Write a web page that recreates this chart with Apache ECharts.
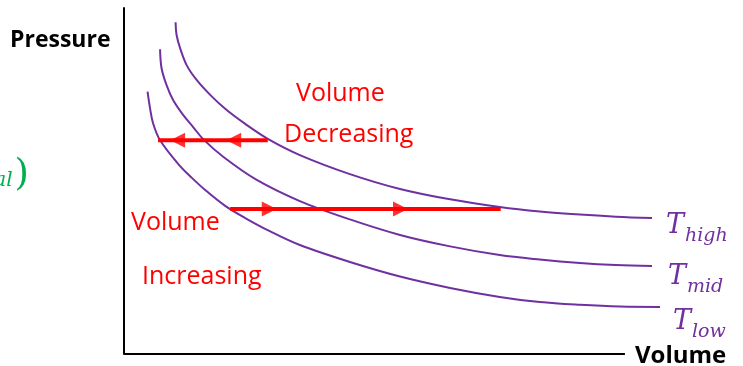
<!DOCTYPE html>
<html>
<head>
<meta charset="utf-8">
<script src="https://cdn.jsdelivr.net/npm/echarts@6/dist/echarts.min.js"></script>
<style>html,body{margin:0;padding:0;background:#fff}#c{width:743px;height:366px}</style>
</head>
<body>
<div id="c"></div>
<script>
// Isotherm curves (Volume, Pressure) in arbitrary units
const tHigh = [[1.03,9.59],[1.05,9.22],[1.12,8.84],[1.25,8.35],[1.45,7.92],[1.72,7.49],[2.05,7.05],[2.42,6.65],[2.88,6.21],[3.51,5.75],[4.51,5.20],[5.51,4.77],[6.51,4.47],[7.50,4.25],[8.30,4.12],[9.10,4.03],[9.82,3.97],[10.54,3.93]];
const tMid  = [[0.72,8.81],[0.75,8.26],[0.85,7.77],[0.98,7.34],[1.18,6.91],[1.38,6.56],[1.58,6.21],[1.98,5.70],[2.65,5.03],[3.51,4.42],[4.51,3.89],[5.51,3.44],[6.51,3.11],[7.50,2.86],[8.30,2.73],[9.10,2.63],[9.82,2.57],[10.54,2.54]];
const tLow  = [[0.47,7.58],[0.52,7.10],[0.58,6.67],[0.72,6.18],[1.12,5.43],[1.32,5.14],[1.62,4.74],[2.02,4.28],[2.42,3.93],[2.91,3.55],[3.51,3.15],[4.51,2.66],[5.51,2.24],[6.51,1.91],[7.50,1.65],[8.30,1.50],[9.10,1.42],[9.90,1.37],[10.70,1.36]];
// Arrows
const decArrow = [[2.87,6.18],[0.68,6.18]];
const decHeads = [[1.07,6.18],[2.19,6.18]];
const incArrow = [[2.12,4.19],[7.52,4.19]];
const incHeads = [[2.90,4.19],[5.52,4.19]];
// Volume axis extent (drawn line)
const volumeAxis = [[0,0],[10,0]];
const curveNames = ['high','mid','low'];

const purple = '#7030A0', red = '#FF0000';
const chart = echarts.init(document.getElementById('c'));

function curve(data, sub, off) {
  return {
    type: 'line', data: data, smooth: 0.35, symbol: 'none',
    lineStyle: {color: purple, width: 2}, silent: true,
    endLabel: {
      show: true, offset: off, formatter: '{t|T}{s|' + sub + '}',
      rich: {
        t: {fontFamily: 'DejaVu Serif', fontStyle: 'italic', fontSize: 27, color: purple, verticalAlign: 'bottom', padding: [0,1,6,0]},
        s: {fontFamily: 'DejaVu Serif', fontStyle: 'italic', fontSize: 19, color: purple, verticalAlign: 'bottom'}
      }
    }
  };
}

chart.setOption({
  animation: false,
  grid: {left: 124, top: 8, right: 78, bottom: 12},
  xAxis: {type: 'value', min: 0, max: 10.8,
    axisLine: {show: false}, axisTick: {show: false}, axisLabel: {show: false}, splitLine: {show: false}},
  yAxis: {type: 'value', min: 0, max: 10,
    axisLine: {show: true, lineStyle: {color: '#000', width: 2}}, axisTick: {show: false}, axisLabel: {show: false}, splitLine: {show: false}},
  series: [
    {type: 'line', data: volumeAxis, symbol: 'none', lineStyle: {color: '#000', width: 2}, silent: true},
    curve(tHigh, curveNames[0], [6, 11]),
    curve(tMid, curveNames[1], [8, 14]),
    curve(tLow, curveNames[2], [5, 18]),
    {type: 'line', data: decArrow, symbol: 'none', lineStyle: {color: red, width: 4}, silent: true},
    {type: 'line', data: incArrow, symbol: 'none', lineStyle: {color: red, width: 4}, silent: true},
    {type: 'scatter', data: decHeads, symbol: 'triangle', symbolSize: [15,15], symbolRotate: 90, itemStyle: {color: red}, silent: true},
    {type: 'scatter', data: incHeads, symbol: 'triangle', symbolSize: [15,15], symbolRotate: -90, itemStyle: {color: red}, silent: true}
  ],
  graphic: [
    {type: 'text', left: 10, top: 29, style: {text: 'Pressure', font: 'bold 23px "Open Sans"', fill: '#000'}},
    {type: 'text', left: 635, top: 344, style: {text: 'Volume', font: 'bold 24px "Open Sans"', fill: '#000'}},
    {type: 'text', left: 296, top: 81, style: {text: 'Volume', font: '25px "Open Sans"', fill: red}},
    {type: 'text', left: 284, top: 122, style: {text: 'Decreasing', font: '25px "Open Sans"', fill: red}},
    {type: 'text', left: 131, top: 210, style: {text: 'Volume', font: '25px "Open Sans"', fill: red}},
    {type: 'text', left: 142, top: 264, style: {text: 'Increasing', font: '25px "Open Sans"', fill: red}},
    {type: 'text', right: 714, top: 157, style: {
      text: '{s|nal}{p|)}',
      rich: {
        s: {fontFamily: 'DejaVu Serif', fontStyle: 'italic', fontSize: 20, fill: '#00B050', verticalAlign: 'bottom', padding: [0,2,3,0]},
        p: {fontFamily: 'DejaVu Serif', fontSize: 37, fill: '#00B050', verticalAlign: 'bottom'}
      }}}
  ]
});
</script>
</body>
</html>
